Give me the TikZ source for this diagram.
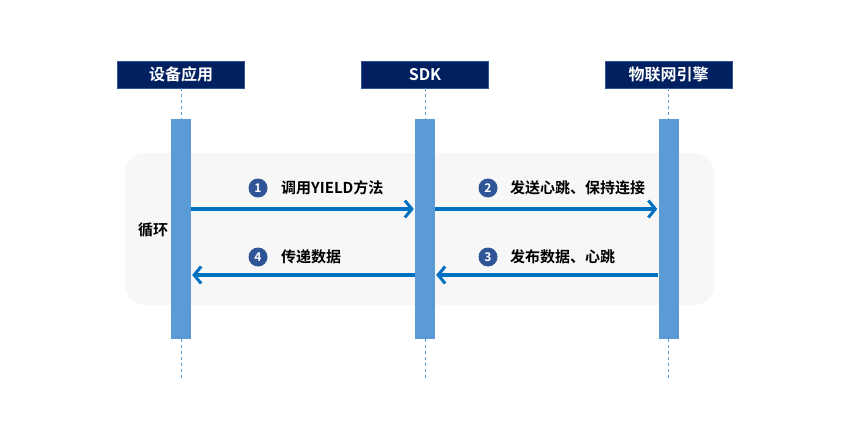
\documentclass[tikz,border=0pt]{standalone}
\usepackage{fontspec}
\setmainfont{Noto Sans CJK SC}
\newfontfamily\cjkb{Noto Sans CJK SC Bold}
\usetikzlibrary{arrows.meta}
\definecolor{navy}{HTML}{002060}
\definecolor{navyb}{HTML}{2F5597}
\definecolor{barc}{HTML}{5B9BD5}
\definecolor{arrc}{HTML}{0070C0}
\definecolor{loopc}{HTML}{F7F7F7}
\definecolor{numc}{HTML}{2F5597}
\tikzset{
  hdr/.style={draw=navyb, line width=0.6pt, fill=navy, text=white, minimum width=127pt, minimum height=27pt, inner sep=0pt, font=\cjkb\fontsize{16}{16}\selectfont},
  bar/.style={fill=barc, draw=none, minimum width=20pt, minimum height=220pt, inner sep=0pt},
  life/.style={draw=barc, line width=0.6pt, dash pattern=on 3pt off 3pt},
  msg/.style={draw=arrc, line width=3.2pt, -{Straight Barb[length=7pt, width=17pt, line width=3pt]}},
  num/.style={circle, fill=numc, text=white, minimum size=19pt, inner sep=0pt, font=\cjkb\fontsize{12}{12}\selectfont},
  lbl/.style={anchor=west, inner sep=0pt, font=\cjkb\fontsize{15}{15}\selectfont}
}
\begin{document}
\begin{tikzpicture}[x=1pt, y=-1pt]
\useasboundingbox (0,0) rectangle (867,433);
\fill[white] (0,0) rectangle (867,433);
\node[fill=loopc, draw=none, rounded corners=20pt, minimum width=589pt, minimum height=152pt, inner sep=0pt] (loop) at (419.5,229) {};
\node[anchor=center, font=\cjkb\fontsize{15}{15}\selectfont] (looplbl) at (153,230) {循环};
% headers
\node[hdr] (h1) at (181,74.5) {设备应用};
\node[hdr] (h2) at (425,74.5) {SDK};
\node[hdr] (h3) at (668.5,74.5) {物联网引擎};
% bars
\node[bar] (b1) at (181,229) {};
\node[bar] (b2) at (425,229) {};
\node[bar] (b3) at (668.5,229) {};
% lifelines
\coordinate (e1) at (181,378);
\coordinate (e2) at (425,380);
\coordinate (e3) at (668.5,380);
\draw[life] (h1.south) -- (b1.north);
\draw[life] (h2.south) -- (b2.north);
\draw[life] (h3.south) -- (b3.north);
\draw[life] (b1.south) -- (e1);
\draw[life] (b2.south) -- (e2);
\draw[life] (b3.south) -- (e3);
% messages
\draw[msg] (b1.east |- 0,209) -- ([xshift=-1pt]b2.west |- 0,209);
\draw[msg] (b2.east |- 0,209) -- ([xshift=-1pt]b3.west |- 0,209);
\draw[msg] (b3.west |- 0,275) -- ([xshift=1pt]b2.east |- 0,275);
\draw[msg] (b2.west |- 0,275) -- ([xshift=1pt]b1.east |- 0,275);
% labels
\node[num] (n1) at (258,188) {1};
\node[lbl] (l1) at (281,188) {调用YIELD方法};
\node[num] (n2) at (488,188) {2};
\node[lbl] (l2) at (510,188) {发送心跳、保持连接};
\node[num] (n3) at (488,257) {3};
\node[lbl] (l3) at (510,257) {发布数据、心跳};
\node[num] (n4) at (258,257) {4};
\node[lbl] (l4) at (281,257) {传递数据};
\end{tikzpicture}
\end{document}
